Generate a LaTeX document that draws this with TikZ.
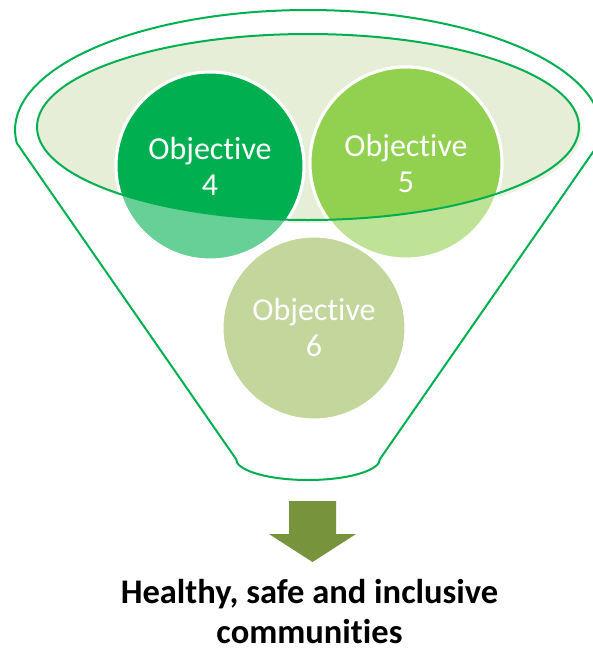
\documentclass[tikz,border=0pt]{standalone}
\usepackage{fontspec}
\setmainfont{Carlito}[Ligatures={NoCommon}]
\definecolor{funnelgreen}{HTML}{00B050}
\definecolor{objfour}{HTML}{00B050}
\definecolor{objfive}{HTML}{92D050}
\definecolor{objsix}{HTML}{9BBB59}
\definecolor{rimfill}{HTML}{E6EED8}
\definecolor{rimshadow}{HTML}{EDF2E3}
\definecolor{arrowolive}{HTML}{77933C}
\begin{document}
\begin{tikzpicture}[x=1pt,y=-1pt,
		funnelline/.style={draw=funnelgreen,line width=2pt,line join=round},
		objdisc/.style={draw=white,line width=3pt},
		objlabel/.style={text=white,align=center,font=\fontsize{32}{36}\selectfont}]
			\useasboundingbox (0,0) rectangle (593,648);
			\clip (0,0) rectangle (593,648);
			
			% Than pheu
			\draw[funnelline] (16.71,142.96) -- (236,459)
				arc[start angle=180,end angle=0,x radius=72,y radius=21]
				-- (599.29,142.96)
				arc[start angle=6.2,end angle=-186.2,x radius=293,y radius=120] -- cycle;
			
			% Mieng pheu
			\fill[rimshadow] (311,130) ellipse[x radius=271,y radius=93];
			\fill[rimfill] (308,127) ellipse[x radius=271,y radius=93];
			
			% Ba hinh tron
			\foreach \col/\cx/\cy/\r in {objfour/210/166/94,objfive/406/163/96,objsix/314/328/92}
				\filldraw[objdisc,fill=\col!60] (\cx,\cy) circle[radius=\r];
			\begin{scope}
				\clip (308,127) ellipse[x radius=271,y radius=93];
				\filldraw[objdisc,fill=objfour] (210,166) circle[radius=94];
				\filldraw[objdisc,fill=objfive] (406,163) circle[radius=96];
			\end{scope}
			\draw[funnelline] (308,127) ellipse[x radius=271,y radius=93];
			
			\node[objlabel] (obj4) at (210,166) {Objective\\4};
			\node[objlabel] (obj5) at (406,163) {Objective\\5};
			\node[objlabel] (obj6) at (314,328) {Objective\\6};
			
			% Mui ten xuong
			\fill[arrowolive] (289,501) -- (336,501) -- (336,534) -- (356,534)
				-- (312.5,562) -- (269,534) -- (289,534) -- cycle;
			
			\node[anchor=base,align=center,inner sep=0pt,text depth=0pt,font=\fontsize{34.5}{40}\selectfont\bfseries]
				(result) at (309.5,643) {Healthy, safe and inclusive\\communities};
	\end{tikzpicture}
\end{document}
